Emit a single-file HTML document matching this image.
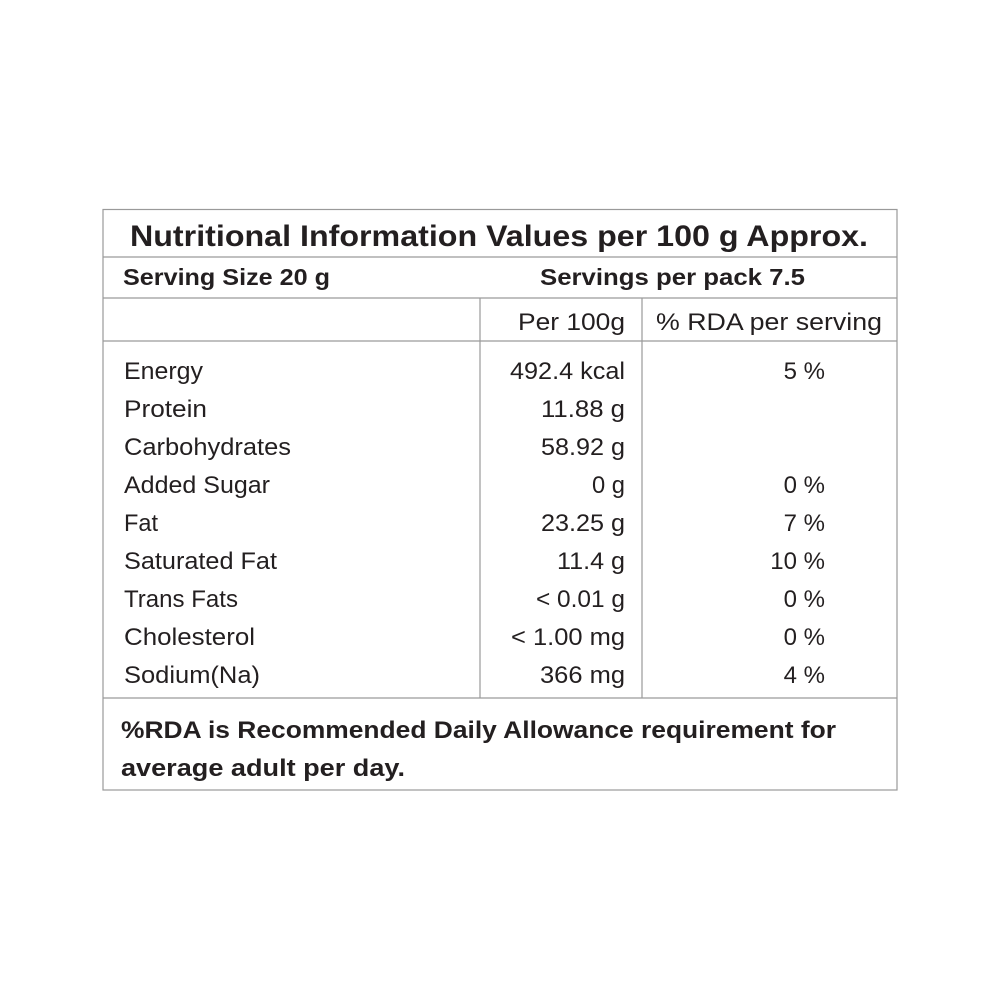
<!DOCTYPE html>
<html><head><meta charset="utf-8"><style>html,body{margin:0;padding:0;background:#fff}svg{display:block}</style></head>
<body>
<svg width="1000" height="1000" viewBox="0 0 1000 1000" xmlns="http://www.w3.org/2000/svg" font-family="Liberation Sans, sans-serif" fill="#231f20">
<g stroke="#9a9a9a" stroke-width="1.2" fill="none">
<rect x="103" y="209.5" width="794" height="580.5"/>
<line x1="103" y1="257" x2="897" y2="257"/>
<line x1="103" y1="298" x2="897" y2="298"/>
<line x1="103" y1="341" x2="897" y2="341"/>
<line x1="103" y1="698" x2="897" y2="698"/>
<line x1="480" y1="298" x2="480" y2="698"/>
<line x1="642" y1="298" x2="642" y2="698"/>
</g>
<g font-weight="bold" lengthAdjust="spacingAndGlyphs">
<text x="130" y="246" font-size="30" textLength="738" lengthAdjust="spacingAndGlyphs">Nutritional Information Values per 100 g Approx.</text>
<text x="123" y="285" font-size="23" textLength="207" lengthAdjust="spacingAndGlyphs">Serving Size 20 g</text>
<text x="540" y="285" font-size="23" textLength="265" lengthAdjust="spacingAndGlyphs">Servings per pack 7.5</text>
<text x="121" y="738" font-size="24" textLength="715" lengthAdjust="spacingAndGlyphs">%RDA is Recommended Daily Allowance requirement for</text>
<text x="121" y="776" font-size="24" textLength="284" lengthAdjust="spacingAndGlyphs">average adult  per day.</text>
</g>
<g font-size="24">
<text x="518" y="330" textLength="107" lengthAdjust="spacingAndGlyphs">Per 100g</text>
<text x="656" y="330" textLength="226" lengthAdjust="spacingAndGlyphs">% RDA per serving</text>
<text x="124" y="379" textLength="79" lengthAdjust="spacingAndGlyphs">Energy</text>
<text x="124" y="417" textLength="83" lengthAdjust="spacingAndGlyphs">Protein</text>
<text x="124" y="455" textLength="167" lengthAdjust="spacingAndGlyphs">Carbohydrates</text>
<text x="124" y="493" textLength="146" lengthAdjust="spacingAndGlyphs">Added Sugar</text>
<text x="124" y="531" textLength="34" lengthAdjust="spacingAndGlyphs">Fat</text>
<text x="124" y="569" textLength="153" lengthAdjust="spacingAndGlyphs">Saturated Fat</text>
<text x="124" y="607" textLength="114" lengthAdjust="spacingAndGlyphs">Trans Fats</text>
<text x="124" y="645" textLength="131" lengthAdjust="spacingAndGlyphs">Cholesterol</text>
<text x="124" y="683" textLength="136" lengthAdjust="spacingAndGlyphs">Sodium(Na)</text>
</g>
<g font-size="24" text-anchor="end">
<text x="625" y="379" textLength="115" lengthAdjust="spacingAndGlyphs">492.4 kcal</text>
<text x="625" y="417" textLength="84" lengthAdjust="spacingAndGlyphs">11.88 g</text>
<text x="625" y="455" textLength="84" lengthAdjust="spacingAndGlyphs">58.92 g</text>
<text x="625" y="493" textLength="33" lengthAdjust="spacingAndGlyphs">0 g</text>
<text x="625" y="531" textLength="84" lengthAdjust="spacingAndGlyphs">23.25 g</text>
<text x="625" y="569" textLength="68" lengthAdjust="spacingAndGlyphs">11.4 g</text>
<text x="625" y="607" textLength="89" lengthAdjust="spacingAndGlyphs">&lt; 0.01 g</text>
<text x="625" y="645" textLength="114" lengthAdjust="spacingAndGlyphs">&lt; 1.00 mg</text>
<text x="625" y="683" textLength="85" lengthAdjust="spacingAndGlyphs">366 mg</text>
<text x="825" y="379">5 %</text>
<text x="825" y="493">0 %</text>
<text x="825" y="531">7 %</text>
<text x="825" y="569">10 %</text>
<text x="825" y="607">0 %</text>
<text x="825" y="645">0 %</text>
<text x="825" y="683">4 %</text>
</g>
</svg>
</body></html>
